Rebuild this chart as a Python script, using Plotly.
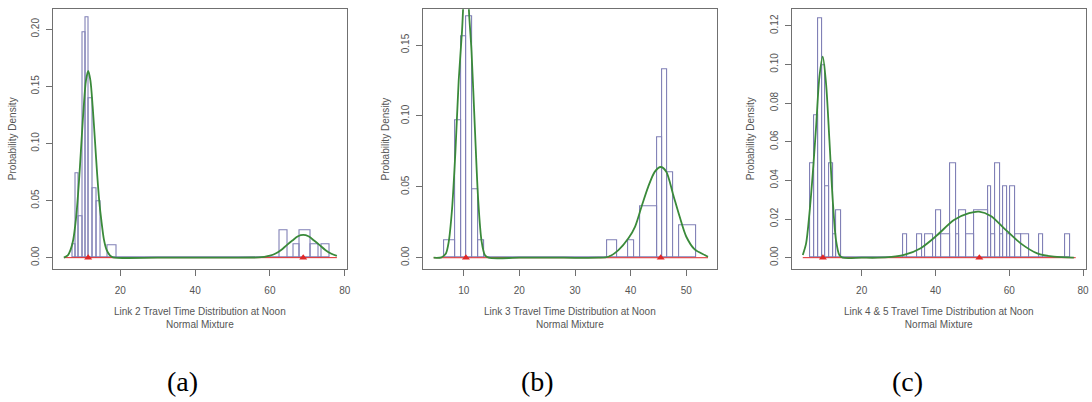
import plotly.graph_objects as go

# ---------------- data ----------------
# Panel (a) Link 2
hist_a_edges = [7.1, 8.0, 8.9, 9.9, 10.7, 11.6, 12.6, 13.6, 14.7, 16.6, 18.9,
                62.7, 64.6, 66.4, 68.0, 70.9, 73.0, 73.9, 75.9]
hist_a_density = [0.0117, 0.074, 0.0365, 0.197, 0.2105, 0.1396, 0.0608, 0.049, 0.0, 0.011,
                  0.0, 0.024, 0.0, 0.0117, 0.024, 0.0117, 0.0, 0.0117]
curve_a_x = [4.9, 6.0, 6.7, 7.4, 8.1, 8.7, 9.2, 9.7, 10.2, 10.8, 11.4, 12.0, 12.6, 13.2,
             13.8, 14.4, 14.9, 15.6, 16.3, 17.2, 18.0, 30.0, 45.0, 57.0, 58.5, 60.0, 61.5,
             63.0, 64.5, 66.0, 67.5, 68.9, 70.3, 71.8, 73.3, 74.8, 76.3, 77.9]
curve_a_y = [0.0, 0.0023, 0.0070, 0.0157, 0.033, 0.056, 0.080, 0.107, 0.132, 0.155, 0.1635,
             0.155, 0.132, 0.103, 0.073, 0.048, 0.033, 0.016, 0.007, 0.002, 0.0003, 0.0, 0.0,
             0.0002, 0.0007, 0.0017, 0.0036, 0.0067, 0.011, 0.015, 0.0187, 0.0199, 0.0187,
             0.015, 0.011, 0.0067, 0.0036, 0.0016]
means_a = [11.4, 68.9]
baseline_a = [4.9, 77.9]

# Panel (b) Link 3
hist_b_edges = [6.5, 8.5, 9.5, 10.5, 11.6, 12.6, 13.6, 35.7, 37.6, 39.6, 40.6, 41.7,
                44.8, 45.7, 46.6, 47.6, 48.8, 51.7]
hist_b_density = [0.012, 0.097, 0.156, 0.17, 0.048, 0.012, 0.0, 0.012, 0.0, 0.012, 0.0,
                  0.0365, 0.085, 0.133, 0.06, 0.0, 0.023]
curve_b_x = [4.6, 6.0, 6.8, 7.3, 7.9, 8.5, 9.1, 9.7, 10.4, 11.0, 11.4, 12.0, 12.6, 13.2,
             13.8, 14.5, 20.0, 28.0, 34.2, 36.0, 37.8, 39.6, 40.8, 41.95, 43.15, 44.35,
             45.4, 46.4, 47.6, 48.8, 50.0, 51.5, 53.3, 53.9]
curve_b_y = [0.0, 0.0003, 0.003, 0.011, 0.034, 0.074, 0.125, 0.160, 0.210, 0.170, 0.146,
             0.092, 0.041, 0.012, 0.002, 0.0, 0.0, 0.0, 0.0, 0.0007, 0.0054, 0.0137, 0.022,
             0.036, 0.050, 0.0607, 0.064, 0.0607, 0.045, 0.029, 0.0148, 0.0059, 0.0019, 0.0007]
means_b = [10.4, 45.4]
baseline_b = [4.6, 53.9]

# Panel (c) Link 4 & 5
hist_c_edges = [6.1, 7.0, 8.1, 9.2, 10.15, 11.26, 12.4, 13.2, 14.4,
                31.3, 32.4, 35.1, 36.3, 37.1, 39.5, 40.3, 41.4, 44.1, 45.5, 46.4, 48.4,
                50.45, 54.2, 55.1, 56.3, 57.4, 58.3, 59.3, 60.2, 61.5, 63.2, 65.5, 68.0,
                69.2, 75.2, 76.4]
hist_c_density = [0.0488, 0.0738, 0.1238, 0.0997, 0.0367, 0.0488, 0.0122, 0.0245,
                  0.0,
                  0.0122, 0.0, 0.0122, 0.0, 0.0122, 0.0, 0.0245, 0.0122, 0.049, 0.0122,
                  0.0245, 0.0122, 0.0245, 0.0367, 0.0122, 0.049, 0.0122, 0.0367, 0.0122,
                  0.0367, 0.0122, 0.0122, 0.0, 0.0122, 0.0, 0.0122]
curve_c_x = [4.05, 4.95, 5.86, 6.76, 7.66, 8.56, 9.46, 10.36, 11.26, 12.16, 13.06, 13.96,
             14.86, 20.0, 24.3, 28.0, 31.5, 36.0, 40.5, 45.0, 49.1, 51.8, 55.0, 58.6,
             63.1, 67.6, 72.1, 77.5]
curve_c_y = [0.0014, 0.0074, 0.023, 0.0437, 0.0678, 0.0936, 0.104, 0.090, 0.061, 0.030,
             0.009, 0.0014, 0.0, 0.0, 0.0, 0.0004, 0.0014, 0.0049, 0.0117, 0.0195, 0.023,
             0.0238, 0.0216, 0.0152, 0.0074, 0.0022, 0.0005, 0.0]
means_c = [9.5, 51.9]
baseline_c = [4.05, 78.0]

# tick labels
xticks_a = [20, 40, 60, 80]
yticks_a = [0.00, 0.05, 0.10, 0.15, 0.20]
xticks_b = [10, 20, 30, 40, 50]
yticks_b = [0.00, 0.05, 0.10, 0.15]
xticks_c = [20, 40, 60, 80]
yticks_c = [0.00, 0.02, 0.04, 0.06, 0.08, 0.10, 0.12]

titles = ["Link 2 Travel Time Distribution at Noon",
          "Link 3 Travel Time Distribution at Noon",
          "Link 4 & 5 Travel Time Distribution at Noon"]
subtitle = "Normal Mixture"
ytitle = "Probability Density"
panel_labels = ["(a)", "(b)", "(c)"]

# ---------------- styling / layout ----------------
W, H = 1092, 402
HIST_COLOR = "#8080b6"
GREEN = "#3a8a3a"
RED = "#e02828"
FRAME = "#707070"
TEXT = "#555555"
FONT = "Liberation Sans, Arial, sans-serif"

# pixel geometry of each panel frame: left, right, top, bottom
frames = [(52.7, 348.3, 9.3, 268.5), (424.3, 719.0, 9.3, 268.5), (794.3, 1089.0, 9.3, 268.5)]
xranges = [[1.87, 80.7], [2.71, 55.52], [1.16, 80.8]]
yranges = [[-0.0095, 0.2175], [-0.0076, 0.1752], [-0.0056, 0.1285]]
ytitle_px = [13.3, 386.7, 753.3]
label_px = [183.3, 539.3, 910.0]

panels = [
    (hist_a_edges, hist_a_density, curve_a_x, curve_a_y, means_a, baseline_a, xticks_a, yticks_a),
    (hist_b_edges, hist_b_density, curve_b_x, curve_b_y, means_b, baseline_b, xticks_b, yticks_b),
    (hist_c_edges, hist_c_density, curve_c_x, curve_c_y, means_c, baseline_c, xticks_c, yticks_c),
]

fig = go.Figure()
annotations = []
layout_axes = {}

for i, (edges, dens, cx, cy, means, base, xt, yt) in enumerate(panels):
    n = "" if i == 0 else str(i + 1)
    xa, ya = "x" + n, "y" + n
    centers = [(edges[k] + edges[k + 1]) / 2 for k in range(len(dens))]
    widths = [edges[k + 1] - edges[k] for k in range(len(dens))]
    fig.add_trace(go.Bar(x=centers, y=dens, width=widths, xaxis=xa, yaxis=ya,
                         marker=dict(color="rgba(255,255,255,0)",
                                     line=dict(color=HIST_COLOR, width=1.1)),
                         hoverinfo="skip"))
    fig.add_trace(go.Scatter(x=base, y=[0, 0], mode="lines", xaxis=xa, yaxis=ya,
                             line=dict(color=RED, width=1)))
    fig.add_trace(go.Scatter(x=cx, y=cy, mode="lines", xaxis=xa, yaxis=ya,
                             line=dict(color=GREEN, width=1.8, shape="spline", smoothing=0.8)))
    fig.add_trace(go.Scatter(x=means, y=[0] * len(means), mode="markers", xaxis=xa, yaxis=ya,
                             marker=dict(symbol="triangle-up", size=7, color=RED)))

    l, r, t, b = frames[i]
    common = dict(showline=True, mirror=True, linecolor=FRAME, linewidth=1,
                  showgrid=False, zeroline=False, ticks="outside", ticklen=6,
                  tickcolor=FRAME, tickwidth=1,
                  tickfont=dict(family=FONT, size=10, color=TEXT), fixedrange=True)
    layout_axes["xaxis" + n] = dict(common, domain=[l / W, r / W], range=xranges[i],
                                    anchor=ya, tickmode="array", tickvals=xt,
                                    ticktext=[str(v) for v in xt], ticklabelstandoff=6)
    layout_axes["yaxis" + n] = dict(common, domain=[1 - b / H, 1 - t / H], range=yranges[i],
                                    anchor=xa, tickmode="array", tickvals=yt,
                                    ticktext=[f"{v:.2f}" for v in yt], tickangle=-90,
                                    ticklabelstandoff=3)

    cxp = (l + r) / 2
    annotations.append(dict(text=titles[i] + "<br>" + subtitle, xref="paper", yref="paper",
                            x=cxp / W, y=1 - 318.2 / H, xanchor="center", yanchor="middle",
                            showarrow=False, font=dict(family=FONT, size=10, color=TEXT)))
    annotations.append(dict(text=ytitle, xref="paper", yref="paper", textangle=-90,
                            x=ytitle_px[i] / W, y=1 - ((t + b) / 2) / H,
                            xanchor="center", yanchor="middle", showarrow=False,
                            font=dict(family=FONT, size=10, color=TEXT)))
    annotations.append(dict(text=panel_labels[i], xref="paper", yref="paper",
                            x=label_px[i] / W, y=1 - 381.7 / H, xanchor="center",
                            yanchor="middle", showarrow=False,
                            font=dict(family="Liberation Serif, Times New Roman, serif",
                                      size=28, color="#000000")))

fig.update_layout(width=W, height=H, margin=dict(l=0, r=0, t=0, b=0),
                  paper_bgcolor="white", plot_bgcolor="white", showlegend=False,
                  barmode="overlay", bargap=0, annotations=annotations, **layout_axes)

# remove the default page margin so the 1092x402 figure fills the window exactly
fig.write_html("out.html",
               config={"displayModeBar": False},
               post_script="document.body.style.margin='0px';"
                           "document.body.style.overflow='hidden';")
